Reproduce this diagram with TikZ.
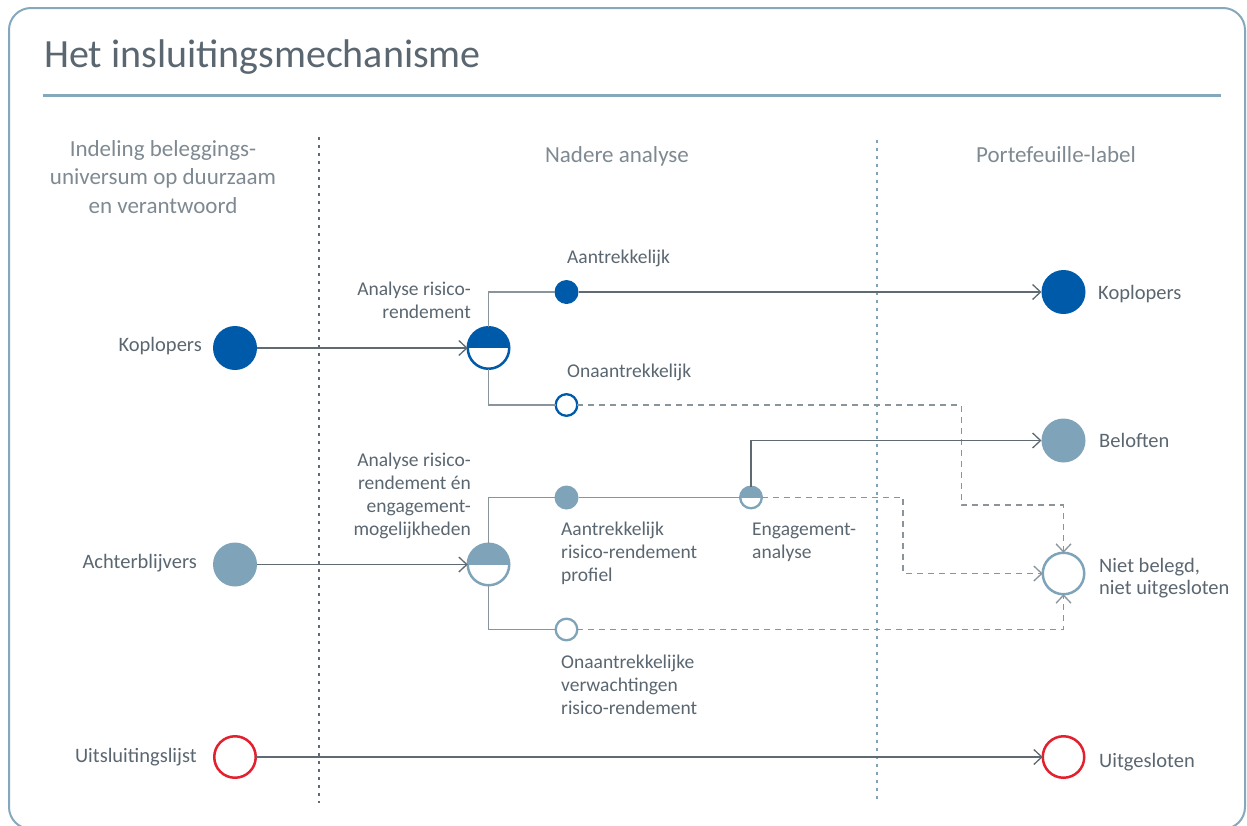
\documentclass[tikz,border=0pt]{standalone}
\usepackage{fontspec}
\setmainfont{Carlito}
\usetikzlibrary{arrows.meta}
\definecolor{dblue}{HTML}{005AAA}
\definecolor{gblue}{HTML}{7FA3B8}
\definecolor{xred}{HTML}{E2202E}
\definecolor{txt}{HTML}{5A6670}
\definecolor{hdr}{HTML}{7E8991}
\definecolor{framec}{HTML}{86A8BD}
\definecolor{conn}{HTML}{5F6A72}
\definecolor{branch}{HTML}{8A949B}
\newcommand\myL[1]{\begin{tabular}[t]{@{}l@{}}#1\end{tabular}}
\newcommand\myR[1]{\begin{tabular}[t]{@{}r@{}}#1\end{tabular}}
\newcommand\myC[1]{\begin{tabular}[t]{@{}c@{}}#1\end{tabular}}
\begin{document}
\begin{tikzpicture}[x=1pt,y=-1pt,
 big/.style={circle,inner sep=0pt,outer sep=0pt,minimum size=44pt},
 bigopen/.style={circle,inner sep=0pt,outer sep=0pt,minimum size=41.5pt,line width=2.5pt,fill=white},
 small/.style={circle,inner sep=0pt,outer sep=0pt,minimum size=24pt},
 smallopen/.style={circle,inner sep=0pt,outer sep=0pt,minimum size=21.6pt,line width=2.3pt,fill=white},
 tophalf/.style={path picture={\fill[#1] (path picture bounding box.north west) rectangle (path picture bounding box.east);}},
 lbl/.style={inner sep=0pt,text=txt,font=\fontsize{20.5}{22.5}\selectfont},
 mlbl/.style={inner sep=0pt,text=txt,font=\fontsize{19.5}{23.3}\selectfont},
 hd/.style={inner sep=0pt,text=hdr,font=\fontsize{23}{28.5}\selectfont},
 arr/.style={draw=conn,line width=1.3pt,-{Straight Barb[length=8pt,width=15pt]}},
 br/.style={draw=branch,line width=1.3pt},
 dsh/.style={draw=branch,line width=1.3pt,dash pattern=on 6pt off 5pt},
 darr/.style={dsh,-{Straight Barb[length=8pt,width=15pt]}},
 dots/.style={line width=2.6pt,dash pattern=on 2.6pt off 5.4pt}
]
\useasboundingbox (0,0) rectangle (1247,825);
% frame and title
\draw[framec,line width=2pt,rounded corners=22pt] (9,8) rectangle (1245,829);
\node[inner sep=0pt,anchor=base west,text=txt,font=\fontsize{40}{48}\selectfont] (title) at (44,67) {Het insluitingsmechanisme};
\draw[framec,line width=3pt] (43,95) -- (1221,95);
% dividers
\draw[conn,dots] (319,137) -- (319,803);
\draw[gblue,dots] (877,140) -- (877,803);
% headers
\node[hd,anchor=base] (h1) at (163,156) {\myC{Indeling beleggings-\\universum op duurzaam\\en verantwoord}};
\node[hd,anchor=base] (h2) at (617,162) {Nadere analyse};
\node[hd,anchor=base] (h3) at (1056,162) {Portefeuille-label};
% circles
\node[big,fill=dblue] (kl) at (235,348) {};
\node[big,fill=gblue] (ab) at (235,564.5) {};
\node[bigopen,draw=xred] (ul) at (235,757) {};
\node[bigopen,draw=dblue,tophalf=dblue] (s1) at (488.5,348) {};
\node[bigopen,draw=gblue,tophalf=gblue] (s2) at (488.5,564.5) {};
\node[small,fill=dblue] (a1) at (566.5,292) {};
\node[smallopen,draw=dblue] (o1) at (566.5,405) {};
\node[small,fill=gblue] (a2) at (566.5,497.5) {};
\node[smallopen,draw=gblue,tophalf=gblue] (eng) at (751,497.5) {};
\node[smallopen,draw=gblue] (o2) at (566.5,629.5) {};
\node[big,fill=dblue] (kr) at (1063.5,292) {};
\node[big,fill=gblue] (bel) at (1063.5,440.5) {};
\node[bigopen,draw=gblue] (nb) at (1063.5,573.5) {};
\node[bigopen,draw=xred] (ug) at (1063.5,757) {};
% helper coordinates
\coordinate (d1) at (961.5,505);
\coordinate (d2) at (903,573.5);
% connectors
\draw[arr] (kl) -- (s1);
\draw[br] (s1.north) |- (a1.west);
\draw[br] (s1.south) |- (o1.west);
\draw[arr] (a1) -- (kr);
\draw[darr] (o1.east) -| (d1) -| (nb.north);
\draw[arr] (ab) -- (s2);
\draw[br] (s2.north) |- (a2.west);
\draw[br] (s2.south) |- (o2.west);
\draw[br] (a2) -- (eng);
\draw[arr] (eng.north) |- (bel.west);
\draw[darr] (eng.east) -| (d2) -- (nb.west);
\draw[darr] (o2.east) -| (nb.south);
\draw[arr] (ul) -- (ug);
% labels left
\node[lbl,anchor=base east] (lkl) at (202,351) {Koplopers};
\node[lbl,anchor=base east] (lab) at (197,568) {Achterblijvers};
\node[lbl,anchor=base east] (lul) at (197,762) {Uitsluitingslijst};
% labels middle
\node[mlbl,anchor=base east] (ls1) at (471,295) {\myR{Analyse risico-\\rendement}};
\node[mlbl,anchor=base east] (ls2) at (471,466) {\myR{Analyse risico-\\rendement én\\engagement-\\mogelijkheden}};
\node[mlbl,anchor=base west] (la1) at (567,263) {Aantrekkelijk};
\node[mlbl,anchor=base west] (lo1) at (567,377) {Onaantrekkelijk};
\node[mlbl,anchor=base west] (la2) at (561,535) {\myL{Aantrekkelijk\\risico-rendement\\profiel}};
\node[mlbl,anchor=base west] (leng) at (752,535) {\myL{Engagement-\\analyse}};
\node[mlbl,anchor=base west] (lo2) at (561,668) {\myL{Onaantrekkelijke\\verwachtingen\\risico-rendement}};
% labels right
\node[lbl,anchor=base west] (lkr) at (1098,299) {Koplopers};
\node[lbl,anchor=base west] (lbel) at (1099,447) {Beloften};
\node[lbl,anchor=base west] (lnb) at (1099,572) {\myL{Niet belegd,\\niet uitgesloten}};
\node[lbl,anchor=base west] (lug) at (1099,767) {Uitgesloten};
\end{tikzpicture}
\end{document}
